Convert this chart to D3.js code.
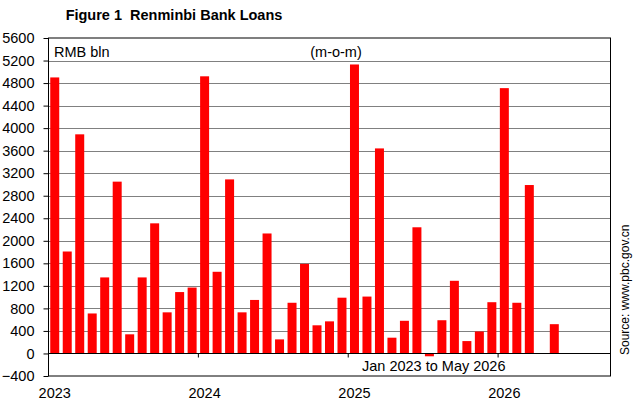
<!DOCTYPE html>
<html>
<head>
<meta charset="utf-8">
<script src="https://cdn.jsdelivr.net/npm/d3@7"></script>
<style>
  body { margin: 0; background: #fff; }
  text { font-family: "Liberation Sans", Arial, sans-serif; }
</style>
</head>
<body>
<svg id="chart" width="638" height="404"></svg>
<script>
// data: month-on-month new RMB loans, bln yuan (Jan 2023 .. May 2026)
var years = ["2023", "2024", "2025", "2026"];
var loans2023 = [4900, 1810, 3890, 710, 1350, 3050, 340, 1350, 2310, 730, 1090, 1170];
var loans2024 = [4920, 1450, 3090, 730, 950, 2130, 250, 900, 1590, 500, 570, 990];
var loans2025 = [5130, 1010, 3640, 280, 580, 2240, -50, 590, 1290, 220, 390, 910];
var loans2026 = [4710, 900, 2990, null, 520];
var yTicks = [-400, 0, 400, 800, 1200, 1600, 2000, 2400, 2800, 3200, 3600, 4000, 4400, 4800, 5200, 5600];
var monthsShown = 45; // axis runs Jan 2023 .. Sep 2026

var values = [].concat(loans2023, loans2024, loans2025, loans2026);

// month keys for the band scale
var months = [];
for (var i = 0; i < monthsShown; i++) {
  months.push(years[0] * 1 + Math.floor(i / 12) + "-" + (i % 12 + 1));
}
var data = values.map(function(v, i) { return {month: months[i], value: v}; })
  .filter(function(d) { return d.value !== null; });

// basic settings
var plotLeft = 48.5, plotRight = 610.5, plotTop = 38, plotBottom = 376;

var svg = d3.select("#chart");

var x = d3.scaleBand()
  .domain(months)
  .range([plotLeft, plotRight])
  .paddingInner(0.28)
  .paddingOuter(0.14);

var y = d3.scaleLinear()
  .domain([-400, 5600])
  .range([plotBottom, plotTop]);

// gridlines
svg.append("g")
  .selectAll("line")
  .data(yTicks.filter(function(t) { return t !== 0 && t !== -400 && t !== 5600; }))
  .enter().append("line")
  .attr("x1", plotLeft).attr("x2", plotRight)
  .attr("y1", function(d) { return Math.round(y(d)) + 0.5; })
  .attr("y2", function(d) { return Math.round(y(d)) + 0.5; })
  .attr("stroke", "#808080")
  .attr("stroke-width", 1);

// bars
svg.append("g")
  .selectAll("rect")
  .data(data)
  .enter().append("rect")
  .attr("x", function(d) { return x(d.month); })
  .attr("width", x.bandwidth())
  .attr("y", function(d) { return y(Math.max(0, d.value)); })
  .attr("height", function(d) { return Math.abs(y(d.value) - y(0)); })
  .attr("fill", "#ff0000");

// zero line with year ticks
var yearStarts = months.filter(function(m, i) { return i > 0 && i % 12 === 0; });
var zeroAxis = d3.axisBottom(x)
  .tickValues(yearStarts)
  .tickSize(4)
  .tickFormat("");
var zeroG = svg.append("g")
  .attr("transform", "translate(0," + (Math.round(y(0)) + 0.5) + ")")
  .call(zeroAxis);
zeroG.select(".domain").attr("d", "M" + plotLeft + ",0H" + plotRight).attr("stroke", "#000");
zeroG.selectAll(".tick")
  .attr("transform", function(d) { return "translate(" + (x(d) - x.step() * 0.14) + ",0)"; });
zeroG.selectAll(".tick line").attr("stroke", "#000");

// y axis
var yAxis = d3.axisLeft(y)
  .tickValues(yTicks)
  .tickSize(5)
  .tickPadding(9)
  .tickFormat(d3.format("d"));
var yG = svg.append("g")
  .attr("transform", "translate(" + plotLeft + ",0)")
  .call(yAxis);
yG.select(".domain").remove();
yG.selectAll(".tick line").attr("stroke", "#000");
yG.selectAll(".tick text")
  .attr("font-size", "14.5px")
  .attr("fill", "#000")
  .attr("font-family", "Liberation Sans, Arial, sans-serif");

// plot frame
svg.append("rect")
  .attr("x", plotLeft).attr("y", plotTop)
  .attr("width", plotRight - plotLeft).attr("height", plotBottom - plotTop)
  .attr("fill", "none")
  .attr("stroke", "#000")
  .attr("stroke-width", 1);

// year labels under the frame
svg.append("g")
  .selectAll("text")
  .data(years)
  .enter().append("text")
  .attr("x", function(d, i) { return x(months[i * 12]) + x.bandwidth() / 2; })
  .attr("y", 398)
  .attr("text-anchor", "middle")
  .attr("font-size", "14.5px")
  .text(function(d) { return d; });

// titles and notes
svg.append("text")
  .attr("x", 174).attr("y", 20)
  .attr("text-anchor", "middle")
  .attr("font-size", "14.5px")
  .attr("font-weight", "bold")
  .style("white-space", "pre")
  .text("Figure 1  Renminbi Bank Loans");

svg.append("text")
  .attr("x", 54).attr("y", 57)
  .attr("font-size", "14.5px")
  .text("RMB bln");

svg.append("text")
  .attr("x", 336).attr("y", 57)
  .attr("text-anchor", "middle")
  .attr("font-size", "14.5px")
  .text("(m-o-m)");

svg.append("text")
  .attr("x", 362).attr("y", 371)
  .attr("font-size", "14.5px")
  .text("Jan 2023 to May 2026");

svg.append("text")
  .attr("transform", "translate(629,355) rotate(-90)")
  .attr("font-size", "12px")
  .text("Source: www.pbc.gov.cn");
</script>
</body>
</html>
